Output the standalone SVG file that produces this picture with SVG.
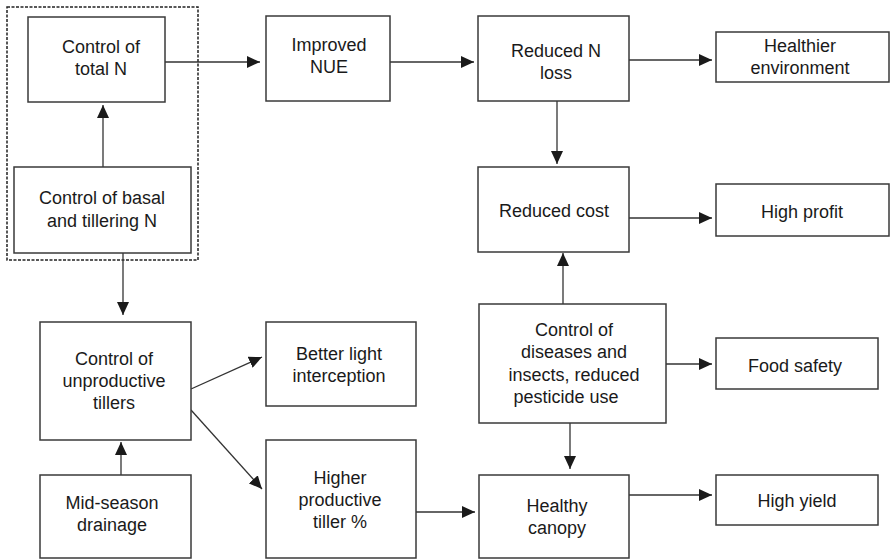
<svg xmlns="http://www.w3.org/2000/svg" width="890" height="560" viewBox="0 0 890 560">
<defs>
<marker id="arr" markerUnits="userSpaceOnUse" markerWidth="13" markerHeight="12" refX="13" refY="6" orient="auto">
<path d="M0,0 L13,6 L0,12 z" fill="#1a1a1a"/>
</marker>
<style>
.box{fill:#fff;stroke:#3a3a3a;stroke-width:1.5}
.dash{fill:none;stroke:#222;stroke-width:1.5;stroke-dasharray:3,1.5}
.c{fill:none;stroke:#333;stroke-width:1.3;marker-end:url(#arr)}
text{font-family:"Liberation Sans",Arial,sans-serif;font-size:18px;fill:#1a1a1a;text-anchor:middle}
</style>
</defs>
<rect width="890" height="560" fill="#fff"/>
<rect class="dash" x="7" y="7" width="191" height="253"/>
<g id="connectors">
<line class="c" x1="165" y1="62" x2="260" y2="62"/>
<line class="c" x1="390" y1="62" x2="474" y2="62"/>
<line class="c" x1="629" y1="60" x2="712" y2="60"/>
<line class="c" x1="557" y1="101" x2="557" y2="164"/>
<line class="c" x1="629" y1="218" x2="712" y2="218"/>
<line class="c" x1="103" y1="167" x2="103" y2="105"/>
<line class="c" x1="123" y1="253" x2="123" y2="315"/>
<line class="c" x1="191" y1="389" x2="262" y2="357"/>
<line class="c" x1="191" y1="410" x2="262" y2="489"/>
<line class="c" x1="121" y1="475" x2="121" y2="442"/>
<line class="c" x1="416" y1="512" x2="475" y2="512"/>
<line class="c" x1="563" y1="304" x2="563" y2="253"/>
<line class="c" x1="666" y1="364" x2="712" y2="364"/>
<line class="c" x1="570" y1="423" x2="570" y2="469"/>
<line class="c" x1="629" y1="495" x2="712" y2="495"/>
</g>
<g id="total-n"><rect class="box" x="28" y="17" width="137" height="85"/><text x="101" y="53">Control of</text><text x="101" y="75">total N</text></g>
<g id="basal-n"><rect class="box" x="14" y="167" width="177" height="86"/><text x="102" y="204">Control of basal</text><text x="102" y="227">and tillering N</text></g>
<g id="improved-nue"><rect class="box" x="266" y="16" width="124" height="85"/><text x="329" y="51">Improved</text><text x="329" y="73">NUE</text></g>
<g id="reduced-n-loss"><rect class="box" x="478" y="16" width="151" height="85"/><text x="556" y="57">Reduced N</text><text x="556" y="79">loss</text></g>
<g id="healthier-env"><rect class="box" x="716" y="32" width="173" height="50"/><text x="800" y="52">Healthier</text><text x="800" y="74">environment</text></g>
<g id="reduced-cost"><rect class="box" x="478" y="167" width="151" height="85"/><text x="554" y="217">Reduced cost</text></g>
<g id="high-profit"><rect class="box" x="716" y="184" width="173" height="52"/><text x="802" y="218">High profit</text></g>
<g id="unproductive"><rect class="box" x="40" y="322" width="151" height="118"/><text x="114" y="365">Control of</text><text x="114" y="387">unproductive</text><text x="114" y="409">tillers</text></g>
<g id="better-light"><rect class="box" x="266" y="322" width="150" height="84"/><text x="339" y="360">Better light</text><text x="339" y="382">interception</text></g>
<g id="higher-productive"><rect class="box" x="266" y="440" width="150" height="118"/><text x="340" y="484">Higher</text><text x="340" y="506">productive</text><text x="340" y="528">tiller %</text></g>
<g id="mid-season"><rect class="box" x="40" y="475" width="151" height="83"/><text x="112" y="509">Mid-season</text><text x="112" y="531">drainage</text></g>
<g id="diseases"><rect class="box" x="479" y="304" width="187" height="119"/><text x="574" y="336">Control of</text><text x="574" y="358">diseases and</text><text x="574" y="381">insects, reduced</text><text x="566" y="403">pesticide use</text></g>
<g id="food-safety"><rect class="box" x="716" y="338" width="162" height="51"/><text x="795" y="372">Food safety</text></g>
<g id="healthy-canopy"><rect class="box" x="479" y="475" width="150" height="83"/><text x="557" y="512">Healthy</text><text x="557" y="534">canopy</text></g>
<g id="high-yield"><rect class="box" x="716" y="475" width="162" height="50"/><text x="797" y="507">High yield</text></g>
</svg>
